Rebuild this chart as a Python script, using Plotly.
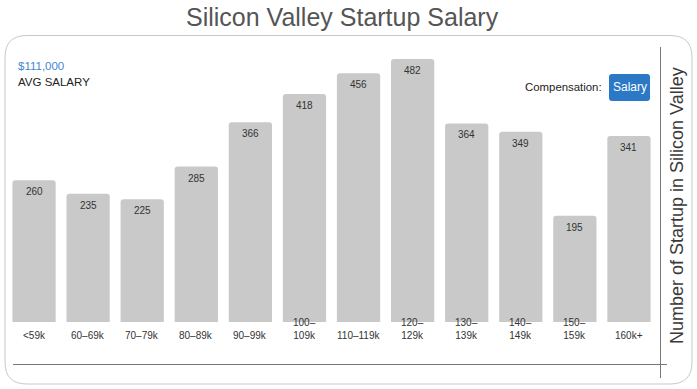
import plotly.graph_objects as go

categories = ["<59k", "60–69k", "70–79k", "80–89k", "90–99k", "100–109k", "110–119k",
              "120–129k", "130–139k", "140–149k", "150–159k", "160k+"]
tick_labels = ["<59k", "60–69k", "70–79k", "80–89k", "90–99k", "100–<br>109k", "110–119k",
               "120–<br>129k", "130–<br>139k", "140–<br>149k", "150–<br>159k", "160k+"]
counts = [260, 235, 225, 285, 366, 418, 456, 482, 364, 349, 195, 341]

W, H = 697, 389
L, R, T, B = 7, 41, 40, 67
PW, PH = W - L - R, H - T - B


def px(x):
    return (x - L) / PW


def py(y):
    return (H - B - y) / PH


FONT = "Liberation Sans, Arial, sans-serif"

fig = go.Figure()
fig.add_trace(go.Bar(
    x=categories, y=counts,
    marker=dict(color="#c9c9c9", line=dict(width=0)),
    hoverinfo="x+y",
))


def rounded_path(x0, y0, x1, y1, r):
    pts = []
    pts.append(f"M {px(x0 + r)} {py(y0)}")
    pts.append(f"L {px(x1 - r)} {py(y0)}")
    pts.append(f"Q {px(x1)} {py(y0)} {px(x1)} {py(y0 + r)}")
    pts.append(f"L {px(x1)} {py(y1 - r)}")
    pts.append(f"Q {px(x1)} {py(y1)} {px(x1 - r)} {py(y1)}")
    pts.append(f"L {px(x0 + r)} {py(y1)}")
    pts.append(f"Q {px(x0)} {py(y1)} {px(x0)} {py(y1 - r)}")
    pts.append(f"L {px(x0)} {py(y0 + r)}")
    pts.append(f"Q {px(x0)} {py(y0)} {px(x0 + r)} {py(y0)}")
    pts.append("Z")
    return " ".join(pts)


shapes = [
    dict(type="path", xref="paper", yref="paper", path=rounded_path(5, 35.5, 692, 384, 22),
         line=dict(color="#c8c8c8", width=1), fillcolor="rgba(0,0,0,0)", layer="below"),
    dict(type="line", xref="paper", yref="paper", x0=px(13), x1=px(667), y0=py(364.5), y1=py(364.5),
         line=dict(color="#777777", width=1)),
    dict(type="line", xref="paper", yref="paper", x0=px(660.5), x1=px(660.5), y0=py(47), y1=py(378),
         line=dict(color="#777777", width=1)),
    dict(type="path", xref="paper", yref="paper", path=rounded_path(609, 74, 650, 101, 3),
         line=dict(width=0), fillcolor="#2b78c6"),
]

annotations = [
    dict(text="Silicon Valley Startup Salary", xref="paper", yref="paper", x=px(342.5), y=py(17),
         xanchor="center", yanchor="middle", showarrow=False,
         font=dict(size=25, color="#555555", family=FONT)),
    dict(text="$111,000", xref="paper", yref="paper", x=px(16), y=py(66),
         xanchor="left", yanchor="middle", showarrow=False,
         font=dict(size=11.5, color="#3f86d6", family=FONT)),
    dict(text="AVG SALARY", xref="paper", yref="paper", x=px(16), y=py(82),
         xanchor="left", yanchor="middle", showarrow=False,
         font=dict(size=11.5, color="#222222", family=FONT)),
    dict(text="Compensation:", xref="paper", yref="paper", x=px(604), y=py(87),
         xanchor="right", yanchor="middle", showarrow=False,
         font=dict(size=11.4, color="#222222", family=FONT)),
    dict(text="Salary", xref="paper", yref="paper", x=px(629.5), y=py(87),
         xanchor="center", yanchor="middle", showarrow=False,
         font=dict(size=12, color="#ffffff", family=FONT)),
    dict(text="Number of Startup in Silicon Valley", xref="paper", yref="paper", x=px(677), y=py(206),
         xanchor="center", yanchor="middle", showarrow=False, textangle=-90,
         font=dict(size=18, color="#3a3a3a", family=FONT)),
]

for cat, val in zip(categories, counts):
    annotations.append(dict(text=str(val), x=cat, y=val, xref="x", yref="y",
                            xanchor="center", yanchor="top", yshift=-4, showarrow=False,
                            font=dict(size=10, color="#333333", family=FONT)))

for cat, lab in zip(categories, tick_labels):
    annotations.append(dict(text=lab, x=cat, xref="x", yref="paper", y=py(343),
                            xanchor="center", yanchor="bottom", showarrow=False,
                            font=dict(size=10, color="#333333", family=FONT)))

fig.update_layout(
    width=W, height=H,
    margin=dict(l=L, r=R, t=T, b=B),
    paper_bgcolor="white", plot_bgcolor="white",
    bargap=0.2,
    barcornerradius=3,
    showlegend=False,
    font=dict(family=FONT),
    xaxis=dict(showticklabels=False, showgrid=False, zeroline=False, showline=False, ticks=""),
    yaxis=dict(range=[0, 517], showticklabels=False, showgrid=False, zeroline=False, showline=False, ticks=""),
    shapes=shapes,
    annotations=annotations,
)

fig.write_html("out.html", config={"displayModeBar": False},
               post_script="document.body.style.margin='0';")
